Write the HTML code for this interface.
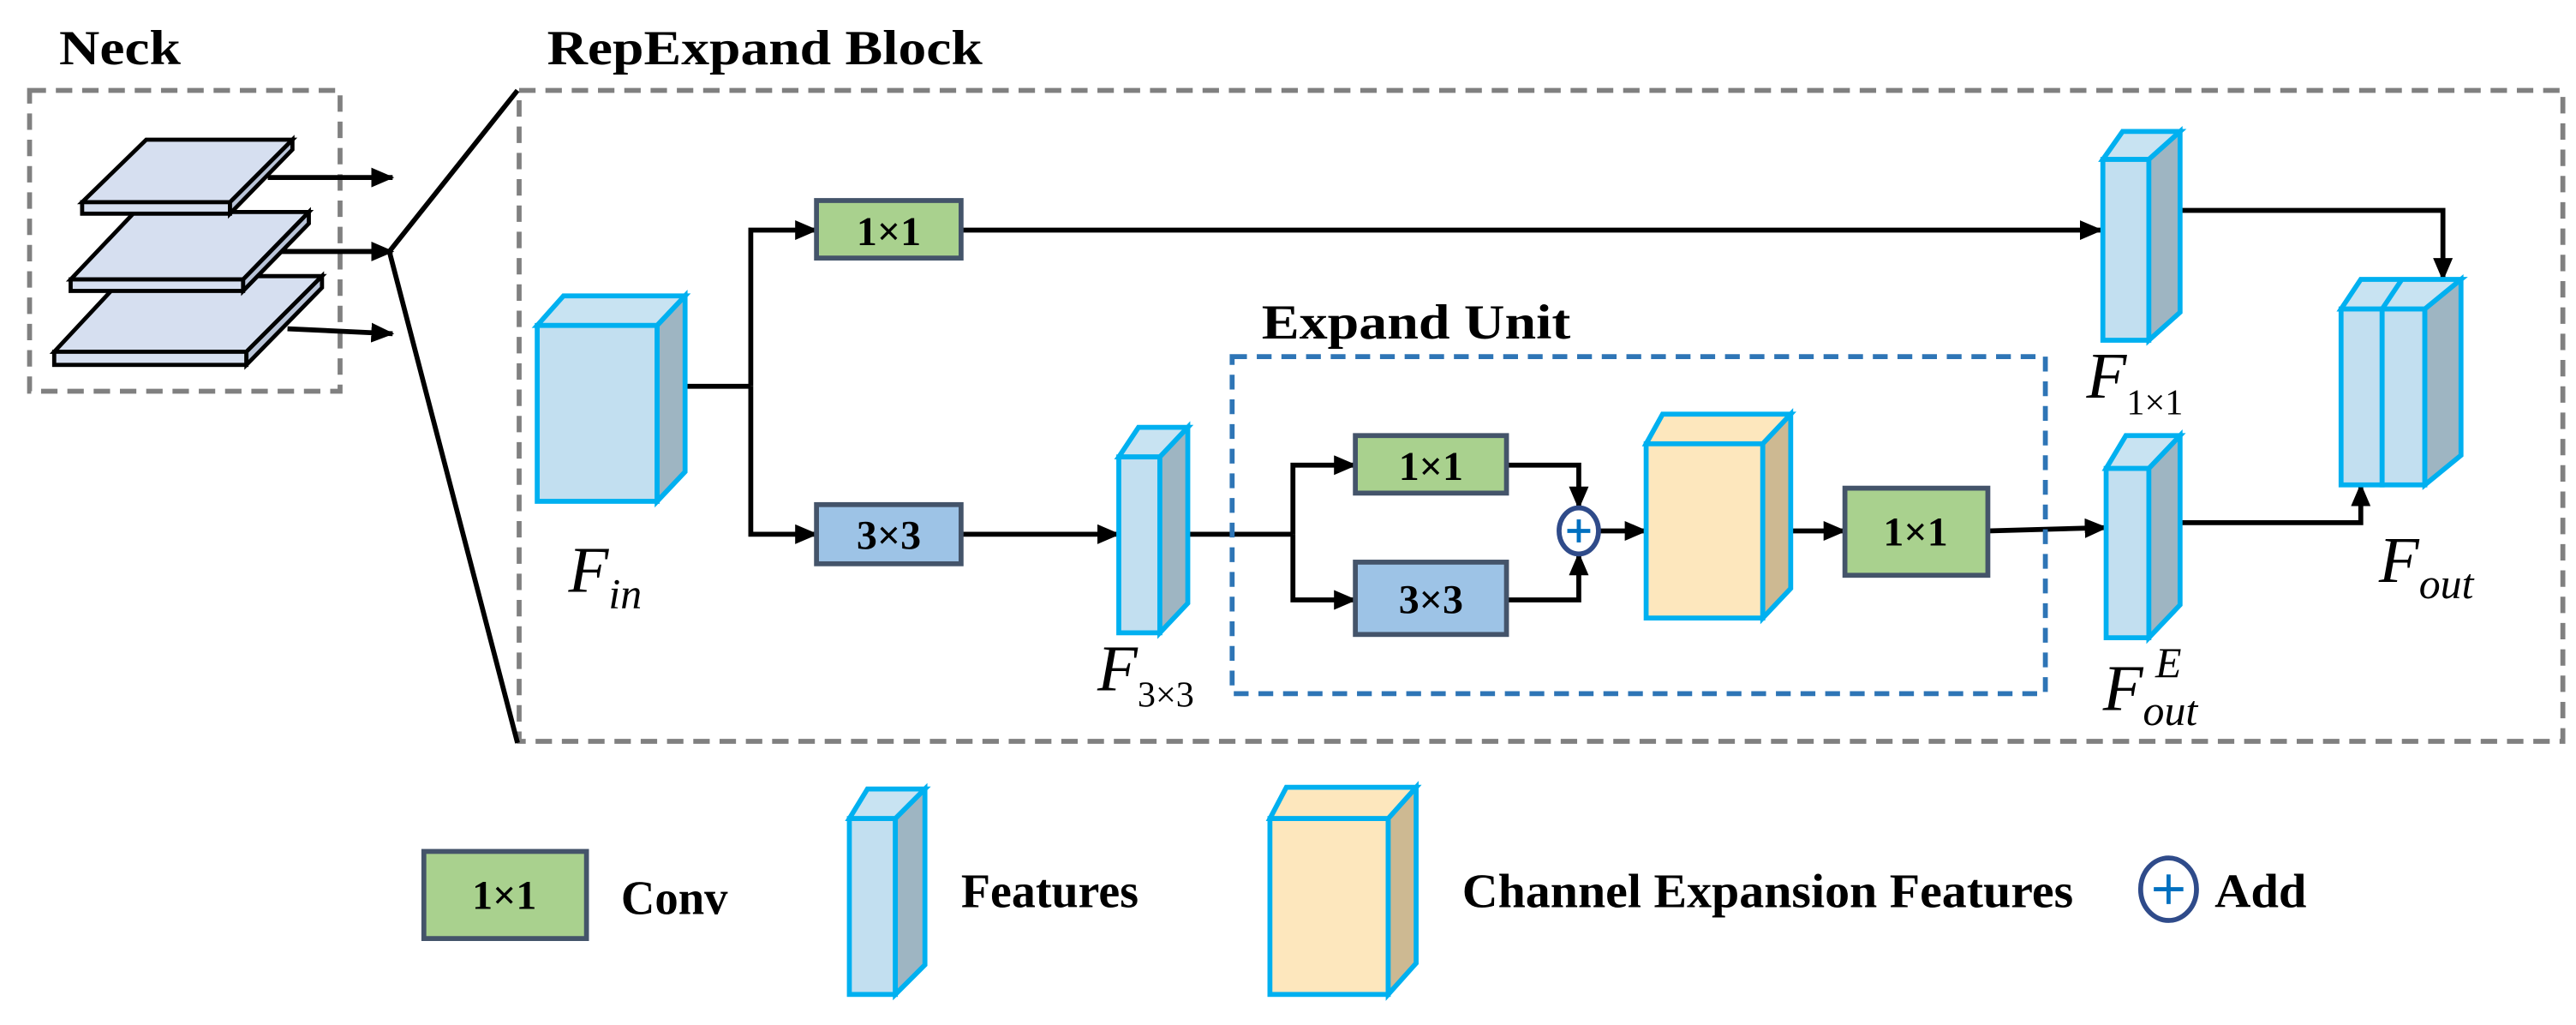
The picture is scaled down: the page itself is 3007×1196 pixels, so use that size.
<!DOCTYPE html>
<html><head><meta charset="utf-8"><style>html,body{margin:0;padding:0;background:#fff}svg{display:block}</style></head>
<body>
<svg width="3007" height="1196" viewBox="0 0 1568 623.6" preserveAspectRatio="none" xmlns="http://www.w3.org/2000/svg" font-family="'Liberation Serif',serif">
<defs>
<marker id="a" markerWidth="14" markerHeight="12" refX="13" refY="6" orient="auto" markerUnits="userSpaceOnUse"><path d="M0,0 L14,6 L0,12 Z" fill="#000"/></marker>
</defs>
<g font-weight="bold" font-size="30">
<text x="36" y="39" textLength="74" lengthAdjust="spacingAndGlyphs">Neck</text>
<text x="333" y="39" textLength="265" lengthAdjust="spacingAndGlyphs">RepExpand Block</text>
<text x="768" y="206" textLength="188" lengthAdjust="spacingAndGlyphs">Expand Unit</text>
</g>
<rect x="18" y="55" width="189" height="183" fill="none" stroke="#808080" stroke-width="3" stroke-dasharray="10,6"/>
<rect x="316" y="55" width="1244" height="396" fill="none" stroke="#808080" stroke-width="3" stroke-dasharray="10,6"/>
<g stroke="#000" stroke-width="2.5" fill="#d6dff0">
<polygon points="76,168 196,168 150,214 33,214"/><rect x="33" y="214" width="117" height="8"/><polygon points="150,214 196,168 196,175 150,222" fill="#b9c4d8"/>
<polygon points="82,129 188,129 148,170 43,170"/><rect x="43" y="170" width="105" height="7"/><polygon points="148,170 188,129 188,136 148,177" fill="#b9c4d8"/>
<polygon points="89,85 178,85 140,123 50,123"/><rect x="50" y="123" width="90" height="7"/><polygon points="140,123 178,85 178,91 140,130" fill="#b9c4d8"/>
</g>
<g stroke="#000" stroke-width="3" fill="none">
<line x1="163" y1="108" x2="239" y2="108" marker-end="url(#a)"/>
<line x1="171" y1="153" x2="239" y2="153" marker-end="url(#a)"/>
<line x1="175" y1="200" x2="239" y2="203" marker-end="url(#a)"/>
<polyline points="315,55 237,153 315,452"/>
<polyline points="417,235 457,235"/>
<polyline points="457,235 457,140 497,140" marker-end="url(#a)"/>
<polyline points="457,235 457,325 497,325" marker-end="url(#a)"/>
<line x1="585" y1="140" x2="1279" y2="140" marker-end="url(#a)"/>
<polyline points="1327,128 1487,128 1487,170" marker-end="url(#a)"/>
<line x1="585" y1="325" x2="681" y2="325" marker-end="url(#a)"/>
<polyline points="723,325 787,325"/>
<polyline points="787,325 787,283 825,283" marker-end="url(#a)"/>
<polyline points="787,325 787,365 825,365" marker-end="url(#a)"/>
<polyline points="917,283 961,283 961,309" marker-end="url(#a)"/>
<polyline points="917,365 961,365 961,337" marker-end="url(#a)"/>
<line x1="973" y1="323" x2="1002" y2="323" marker-end="url(#a)"/>
<line x1="1073" y1="323" x2="1123" y2="323" marker-end="url(#a)"/>
<line x1="1210" y1="323" x2="1282" y2="321" marker-end="url(#a)"/>
<polyline points="1327,318 1437,318 1437,295" marker-end="url(#a)"/>
</g>
<rect x="750" y="217" width="495" height="205" fill="none" stroke="#2e75b6" stroke-width="3" stroke-dasharray="9,6"/>
<g stroke="#44546a" stroke-width="3" font-weight="bold" font-size="25" text-anchor="middle">
<rect x="497" y="122" width="88" height="35" fill="#a9d18e"/><text x="541" y="149" stroke="none">1×1</text>
<rect x="497" y="307" width="88" height="36" fill="#9dc3e6"/><text x="541" y="334" stroke="none">3×3</text>
<rect x="825" y="265" width="92" height="35" fill="#a9d18e"/><text x="871" y="292" stroke="none">1×1</text>
<rect x="825" y="342" width="92" height="44" fill="#9dc3e6"/><text x="871" y="373" stroke="none">3×3</text>
<rect x="1123" y="297" width="87" height="53" fill="#a9d18e"/><text x="1166" y="332" stroke="none">1×1</text>
<rect x="258" y="518" width="99" height="53" fill="#a9d18e"/><text x="307" y="553" stroke="none">1×1</text>
</g>
<g stroke="#00b0f0" stroke-width="3">
<g><polygon points="327,198 343,180 417,180 400,198" fill="#c8e3f2"/><rect x="327" y="198" width="73" height="107" fill="#c2dff0"/><polygon points="400,198 417,180 417,287 400,305" fill="#9eb5c2"/></g>
<g><polygon points="1280,97 1292,80 1327,80 1308,97" fill="#c8e3f2"/><rect x="1280" y="97" width="28" height="110" fill="#c2dff0"/><polygon points="1308,97 1327,80 1327,190 1308,207" fill="#9eb5c2"/></g>
<g><polygon points="681,278 693,260 723,260 706,278" fill="#c8e3f2"/><rect x="681" y="278" width="25" height="107" fill="#c2dff0"/><polygon points="706,278 723,260 723,367 706,385" fill="#9eb5c2"/></g>
<g><polygon points="1282,285 1294,265 1327,265 1308,285" fill="#c8e3f2"/><rect x="1282" y="285" width="26" height="103" fill="#c2dff0"/><polygon points="1308,285 1327,265 1327,368 1308,388" fill="#9eb5c2"/></g>
<g><polygon points="1425,188 1437,170 1498,170 1476,188" fill="#c8e3f2"/><line x1="1450" y1="188" x2="1462" y2="170"/><rect x="1425" y="188" width="25" height="107" fill="#c2dff0"/><rect x="1450" y="188" width="26" height="107" fill="#c2dff0"/><polygon points="1476,188 1498,170 1498,277 1476,295" fill="#9eb5c2"/></g>
<g><polygon points="1002,270 1012,252 1090,252 1073,270" fill="#fde7bd"/><rect x="1002" y="270" width="71" height="106" fill="#fde7bd"/><polygon points="1073,270 1090,252 1090,358 1073,376" fill="#cdb992"/></g>
<g><polygon points="517,498 528,480 563,480 545,498" fill="#c8e3f2"/><rect x="517" y="498" width="28" height="107" fill="#c2dff0"/><polygon points="545,498 563,480 563,587 545,605" fill="#9eb5c2"/></g>
<g><polygon points="773,498 783,479 862,479 845,498" fill="#fde7bd"/><rect x="773" y="498" width="72" height="107" fill="#fde7bd"/><polygon points="845,498 862,479 862,586 845,605" fill="#cdb992"/></g>
</g>
<g stroke="#2f4b8a" stroke-width="3" fill="#fff"><ellipse cx="961" cy="323" rx="12" ry="14"/><ellipse cx="1320" cy="541" rx="17" ry="19"/></g>
<g stroke="#0070c0" stroke-width="2.5"><line x1="954" y1="323" x2="968" y2="323"/><line x1="961" y1="316" x2="961" y2="330"/><line x1="1311" y1="541" x2="1329" y2="541"/><line x1="1320" y1="532" x2="1320" y2="550"/></g>
<g font-style="italic" font-size="40">
<text x="346" y="360">F<tspan font-size="26" dy="10">in</tspan></text>
<text x="1270" y="242">F<tspan font-size="22" font-style="normal" dy="10">1×1</tspan></text>
<text x="668" y="420">F<tspan font-size="22" font-style="normal" dy="10">3×3</tspan></text>
<text x="1448" y="354">F<tspan font-size="26" dy="10">out</tspan></text>
<text x="1280" y="432">F<tspan font-size="26" dy="9">out</tspan></text>
<text x="1312" y="412" font-size="26">E</text>
</g>
<g font-weight="bold" font-size="29">
<text x="378" y="556" textLength="65" lengthAdjust="spacingAndGlyphs">Conv</text>
<text x="585" y="552" textLength="108" lengthAdjust="spacingAndGlyphs">Features</text>
<text x="890" y="552" textLength="372" lengthAdjust="spacingAndGlyphs">Channel Expansion Features</text>
<text x="1348" y="552" textLength="56" lengthAdjust="spacingAndGlyphs">Add</text>
</g>
</svg>
</body></html>
